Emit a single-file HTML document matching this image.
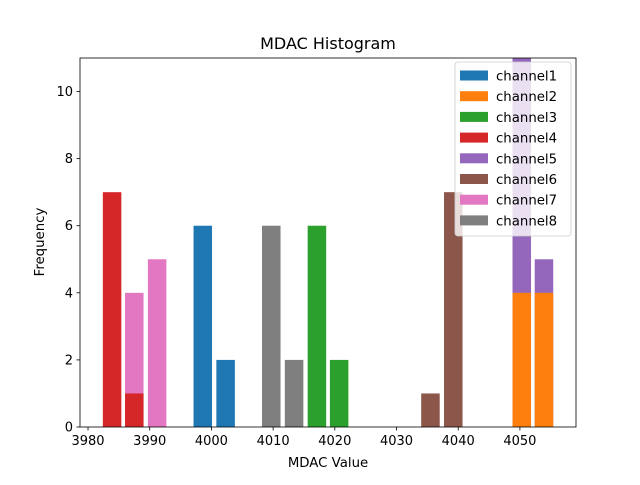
<!DOCTYPE html>
<html><head><meta charset="utf-8"><style>
body{margin:0;background:#fff;}
svg text{font-family:"DejaVu Sans","Liberation Sans",sans-serif;}
</style></head><body>
<svg id="chart" width="640" height="480" xmlns="http://www.w3.org/2000/svg">
<rect width="640" height="480" fill="#fff"/>
<g id="bars"></g>
<g id="axes"></g>
<text x="328" y="49" font-size="16" text-anchor="middle">MDAC Histogram</text>
<text x="328" y="467" font-size="13.3" text-anchor="middle">MDAC Value</text>
<text x="44" y="242" font-size="13.3" text-anchor="middle" transform="rotate(-90 44 242)">Frequency</text>
<g id="legend"></g>
</svg>
<script>
const channelNames = ["channel1","channel2","channel3","channel4","channel5","channel6","channel7","channel8"];
const channelColors = ["#1f77b4","#ff7f0e","#2ca02c","#d62728","#9467bd","#8c564b","#e377c2","#7f7f7f"];
const binCenters = [
  [3998.6, 4002.3],
  [4050.3, 4053.9],
  [4017.1, 4020.7],
  [3983.9, 3987.5],
  [4050.3, 4053.9],
  [4035.5, 4039.2],
  [3987.5, 3991.2],
  [4009.7, 4013.4]
];
const binCounts = [
  [6, 2],
  [4, 4],
  [6, 2],
  [7, 1],
  [11, 5],
  [1, 7],
  [4, 5],
  [6, 2]
];
const drawOrder = [6, 3, 0, 7, 2, 5, 4, 1];
const xTicks = [3980,3990,4000,4010,4020,4030,4040,4050];
const yTicks = [0,2,4,6,8,10];

const L=80,R=576,T=58,B=427;
const xMin=3978.70,xMax=4059.09,yMax=11;
const xs=v=>L+(v-xMin)/(xMax-xMin)*(R-L);
const ys=v=>B-v/yMax*(B-T);
const binW=3.0;
const NS="http://www.w3.org/2000/svg";
function mk(tag,attrs,parent){const e=document.createElementNS(NS,tag);for(const k in attrs)e.setAttribute(k,attrs[k]);parent.appendChild(e);return e;}
const bars=document.getElementById('bars');
const clip=mk('clipPath',{id:'plotclip'},document.getElementById('chart'));
mk('rect',{x:L,y:T,width:R-L,height:B-T},clip);
bars.setAttribute('clip-path','url(#plotclip)');
drawOrder.forEach(ci=>{
  binCenters[ci].forEach((c,j)=>{
    const v=binCounts[ci][j];
    const r=mk('rect',{x:xs(c-binW/2),y:ys(v),width:xs(c+binW/2)-xs(c-binW/2),height:B-ys(v),fill:channelColors[ci]},bars);
    
    
  });
});
const axes=document.getElementById('axes');
const frame=mk('rect',{x:L,y:T,width:R-L,height:B-T,fill:'none',stroke:'#000','stroke-width':0.8},axes);


xTicks.forEach(t=>{
  const x=xs(t);
  mk('line',{x1:x,x2:x,y1:B,y2:B+3.5,stroke:'#000','stroke-width':0.8},axes);
  const tx=mk('text',{x:x,y:B+18,'font-size':13,'text-anchor':'middle'},axes);
  tx.textContent=t;
  
  
});
yTicks.forEach(t=>{
  const y=ys(t);
  mk('line',{x1:L-3.5,x2:L,y1:y,y2:y,stroke:'#000','stroke-width':0.8},axes);
  const tx=mk('text',{x:L-7,y:y+4.5,'font-size':13,'text-anchor':'end'},axes);
  tx.textContent=t;
  
  
});
const lg=document.getElementById('legend');
const lb=mk('rect',{x:455,y:62,width:116,height:174,rx:3,fill:'#fff','fill-opacity':0.8,stroke:'#ccc','stroke-width':0.8},lg);


channelNames.forEach((n,i)=>{
  const y=75.5+i*20.7;
  const p=mk('rect',{x:460,y:y-5,width:28,height:10,fill:channelColors[i]},lg);
  
  
  const t=mk('text',{x:496,y:y+5,'font-size':13.3},lg);
  t.textContent=n;
  
  
});
</script>
</body></html>
